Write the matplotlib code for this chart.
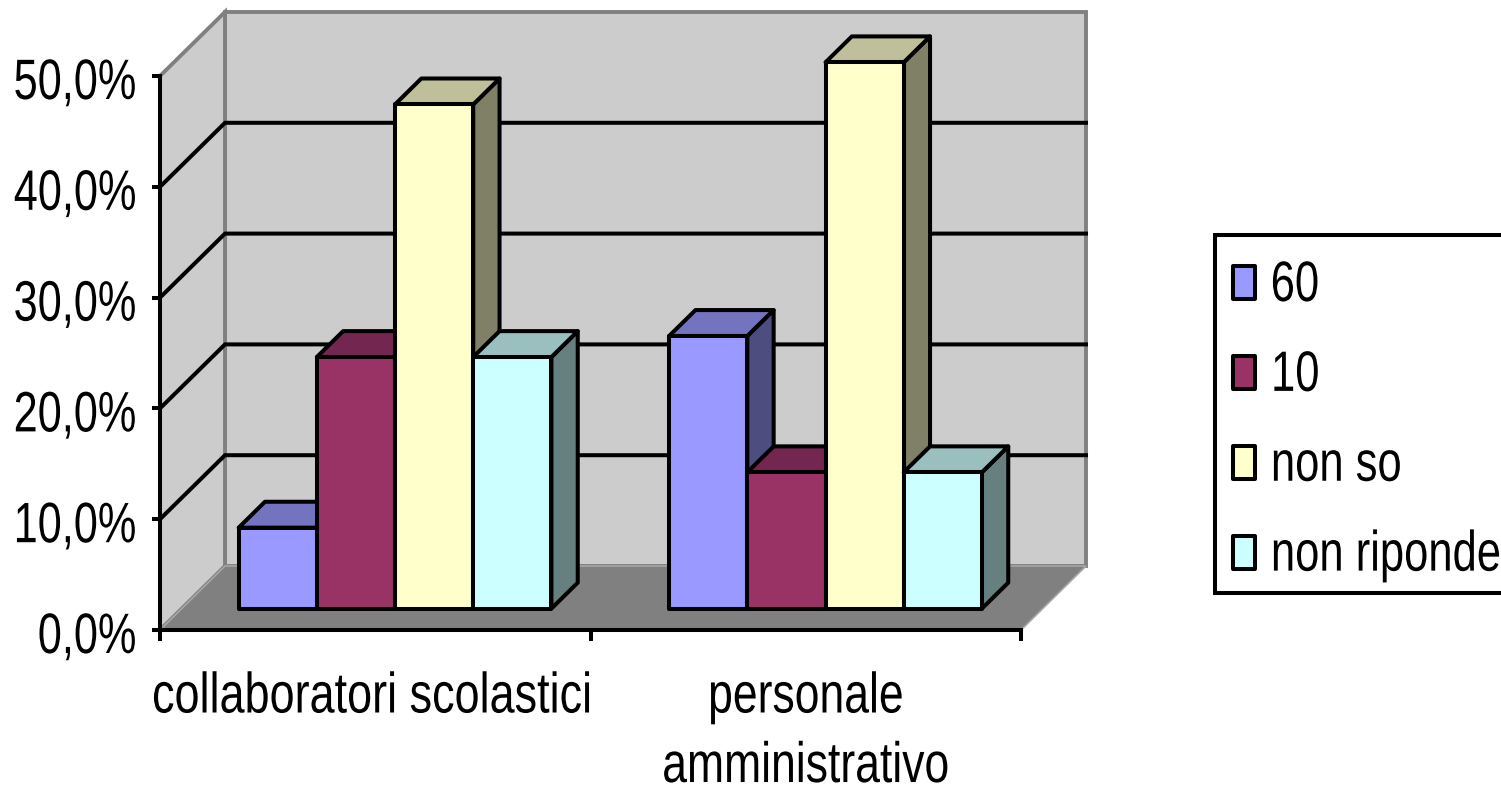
import matplotlib
matplotlib.use("Agg")
import matplotlib.pyplot as plt
from matplotlib.patches import Polygon, Patch, Rectangle
from matplotlib.legend_handler import HandlerPatch
from matplotlib.patheffects import AbstractPathEffect
from matplotlib.transforms import Affine2D

categories = ["collaboratori scolastici", "personale\namministrativo"]
series_names = ["60", "10", "non so", "non riponde"]
v60 = [7.3, 24.6]
v10 = [22.7, 12.3]
non_so = [45.5, 49.3]
non_riponde = [22.7, 12.3]
series_values = [v60, v10, non_so, non_riponde]
yticks = [0, 10, 20, 30, 40, 50]
ytick_labels = ["0,0%", "10,0%", "20,0%", "30,0%", "40,0%", "50,0%"]
front_cols = ["#9999FF", "#993366", "#FFFFCC", "#CCFFFF"]
top_cols = ["#7373BF", "#732650", "#BFBF99", "#99BFBF"]
side_cols = ["#4D4D80", "#4D1A33", "#808066", "#668080"]

plt.rcParams["font.family"] = ["Liberation Sans", "DejaVu Sans"]
W, H = 1501, 786
FS = 41
LW = 2.9
fig = plt.figure(figsize=(W / 100, H / 100), dpi=100)
L, R, T, B = 160, 1021, 76, 630
ax = fig.add_axes([L / W, 1 - B / H, (R - L) / W, (B - T) / H])
ax.set_xlim(0, 2)
ax.set_ylim(0, 50)
ax.patch.set_visible(False)

px_x = 2 / (R - L)
px_y = 50 / (B - T)
DX, DY = 65 * px_x, 64 * px_y


class Squeeze(AbstractPathEffect):
    """Narrow the glyphs of a real text, as the reference's condensed lettering."""

    def __init__(self, sx, mode, dx=0, dy=0):
        super().__init__()
        self.sx, self.mode, self.dx, self.dy = sx, mode, dx, dy

    def draw_path(self, renderer, gc, tpath, affine, rgbFace=None):
        ext = tpath.get_extents(affine)
        anchor = {"left": ext.x0, "center": (ext.x0 + ext.x1) / 2, "right": ext.x1}[self.mode]
        t = affine + Affine2D().translate(-anchor, 0).scale(self.sx, 1).translate(anchor + self.dx, self.dy)
        renderer.draw_path(gc, tpath, t, rgbFace)


def proj(x, y, d):
    return (x + d * DX, y + d * DY)


def poly(pts, **kw):
    p = Polygon(pts, closed=True, clip_on=False, **kw)
    ax.add_patch(p)


GRAY = "#808080"
WALL = "#CCCCCC"
# walls and floor
poly([proj(0, 0, 1), proj(2, 0, 1), proj(2, 50, 1), proj(0, 50, 1)], fc=WALL, ec=GRAY, lw=2.8, zorder=1)
poly([proj(0, 0, 0), proj(0, 0, 1), proj(0, 50, 1), proj(0, 50, 0)], fc=WALL, ec=GRAY, lw=2.8, zorder=1)
poly([proj(0, 0, 0), proj(2, 0, 0), proj(2, 0, 1), proj(0, 0, 1)], fc=GRAY, ec="#A6A6A6", lw=1.2, zorder=1.5)
for t in yticks[1:-1]:
    a, b, c = proj(0, t, 0), proj(0, t, 1), proj(2, t, 1)
    ax.plot([a[0], b[0], c[0]], [a[1], b[1], c[1]], color="black", lw=LW, clip_on=False,
            solid_joinstyle="miter", zorder=2)

# bars
BAR_W = 78.2 / (R - L) * 2
GAP = (1 - 4 * BAR_W) / 2 - 2 * px_x
D0, D1 = 0.335, 0.74
for c in range(len(categories)):
    for s, vals in enumerate(series_values):
        x0 = c + GAP + s * BAR_W
        x1 = x0 + BAR_W
        v = vals[c]
        z = 3 + c * 4 + s
        kw = dict(ec="black", lw=LW, joinstyle="round", zorder=z)
        poly([proj(x1, 0, D0), proj(x1, 0, D1), proj(x1, v, D1), proj(x1, v, D0)], fc=side_cols[s], **kw)
        poly([proj(x0, v, D0), proj(x1, v, D0), proj(x1, v, D1), proj(x0, v, D1)], fc=top_cols[s], **kw)
        poly([proj(x0, 0, D0), proj(x1, 0, D0), proj(x1, v, D0), proj(x0, v, D0)], fc=front_cols[s], **kw)

# axes
for side in ("top", "right"):
    ax.spines[side].set_visible(False)
for side in ("left", "bottom"):
    ax.spines[side].set_linewidth(LW)
    ax.spines[side].set_zorder(30)
ax.set_yticks(yticks)
ax.set_yticklabels(ytick_labels, fontsize=FS)
ax.set_xticks([0, 1, 2])
ax.set_xticklabels([])
ax.set_xticks([0.5, 1.5], labels=categories, minor=True, fontsize=FS, linespacing=1.37)
ax.tick_params(axis="x", which="minor", length=0, pad=18)
ax.tick_params(axis="x", which="major", length=8, width=LW)
ax.tick_params(axis="y", length=6, width=LW, pad=-6)
for lab in ax.get_yticklabels():
    lab.set_path_effects([Squeeze(0.76, "right", dx=-23, dy=-2)])
xlabs = ax.get_xticklabels(minor=True)
xlabs[0].set_path_effects([Squeeze(0.79, "center", dx=-3, dy=-15.5)])
xlabs[1].set_path_effects([Squeeze(0.782, "center", dy=-15.5)])


LEG_SHIFT = 80
LEG_SHIFT_PT = LEG_SHIFT * 0.72


class SquareHandler(HandlerPatch):
    def create_artists(self, legend, orig, xd, yd, width, height, fontsize, trans):
        r = Rectangle((LEG_SHIFT_PT, 1.5), width, height, fc=orig.get_facecolor(), ec="black",
                      lw=LW, joinstyle="round", transform=trans)
        return [r]


# legend frame runs past the right edge of the picture, as in the reference
fig.add_artist(Rectangle((1215 / W, 1 - 593 / H), 320 / W, 358 / H, transform=fig.transFigure,
                         fc="white", ec="black", lw=LW))
handles = [Patch(fc=c, label=n) for c, n in zip(front_cols, series_names)]
leg = fig.legend(handles=handles, loc="upper left", bbox_to_anchor=((1233 - LEG_SHIFT) / W, 1 - 259 / H),
                 bbox_transform=fig.transFigure, borderaxespad=0, fontsize=FS,
                 handlelength=0.38, handleheight=0.5, handletextpad=0.27,
                 labelspacing=0.63, borderpad=0, frameon=False,
                 handler_map={Patch: SquareHandler()})
for lab in leg.get_texts():
    lab.set_path_effects([Squeeze(0.765, "left", dx=LEG_SHIFT)])

fig.savefig("out.png", dpi=100)
